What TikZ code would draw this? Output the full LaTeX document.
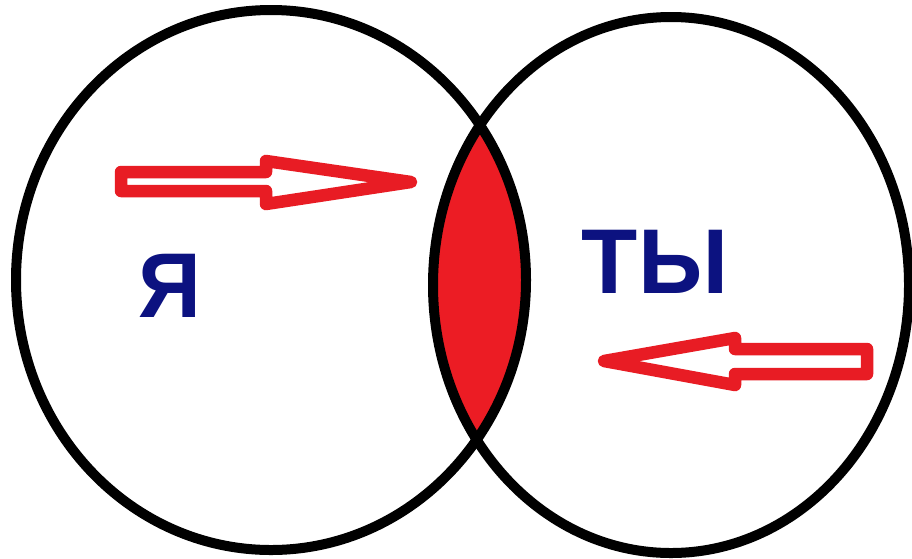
\documentclass[tikz,border=0pt]{standalone}
\usepackage{fontspec}
\setmainfont{Liberation Sans}
\definecolor{arrred}{RGB}{232,28,36}
\definecolor{lensred}{RGB}{236,28,36}
\definecolor{navy}{RGB}{12,18,128}
\tikzset{
  ring/.style={draw=black,line width=10pt},
  hollowarrow/.style={draw=arrred,fill=white,line width=12.5pt,line join=round},
  word/.style={text=navy,font=\bfseries\fontsize{92}{92}\selectfont,inner sep=0pt}
}
\begin{document}
\begin{tikzpicture}[x=1pt,y=-1pt]
\useasboundingbox[fill=white] (0,0) rectangle (912,558);
% lens
\begin{scope}
  \clip (271,280) ellipse [x radius=255,y radius=270];
  \fill[lensred] (671,285) ellipse [x radius=238,y radius=268];
\end{scope}
% circles
\draw[ring] (271,280) ellipse [x radius=255,y radius=270];
\draw[ring] (671,285) ellipse [x radius=238,y radius=268];
% arrows
\draw[hollowarrow] (121,172) -- (266,172) -- (266,161) -- (411,182) -- (266,204) -- (266,191) -- (121,191) -- cycle;
\draw[hollowarrow] (867,349) -- (735,349) -- (735,338) -- (604,361) -- (735,385) -- (735,374) -- (867,374) -- cycle;
% labels
\node[word,xscale=0.95] (ya) at (170,286) {Я};
\node[word] (ty) at (655,262) {ТЫ};
\end{tikzpicture}
\end{document}
